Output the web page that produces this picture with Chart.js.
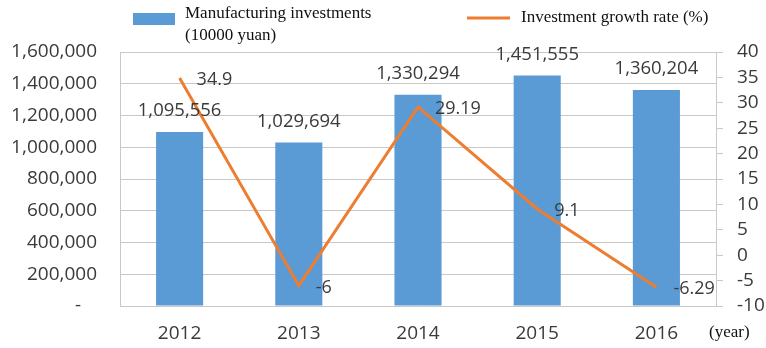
<!DOCTYPE html>
<html>
<head>
<meta charset="utf-8">
<script src="https://cdn.jsdelivr.net/npm/chart.js@4.4.1/dist/chart.umd.min.js"></script>
<style>
    html, body { margin: 0; padding: 0; background: #fff; }
    #wrap { width: 766px; height: 348px; }
</style>
</head>
<body>
<div id="wrap"><canvas id="investChart" width="766" height="348"></canvas></div>
<script>
const years = ['2012', '2013', '2014', '2015', '2016'];
const investments = [1095556, 1029694, 1330294, 1451555, 1360204];
const growthRates = [34.9, -6, 29.19, 9.1, -6.29];

const BLUE = '#5b9bd5';
const ORANGE = '#ed7d31';
const TEXT = '#3a3a3a';
const GRID = '#c8c8c8';
const SANS = '"Open Sans", sans-serif';
const SERIF = '"Liberation Serif", "Times New Roman", serif';

// Value labels beside the bars and line points
const valueLabels = {
    id: 'valueLabels',
    afterDatasetsDraw(chart) {
        const ctx = chart.ctx;
        ctx.save();
        ctx.fillStyle = TEXT;
        ctx.textBaseline = 'middle';

        const barMeta = chart.getDatasetMeta(1);
        ctx.font = '18.5px ' + SANS;
        ctx.textAlign = 'center';
        barMeta.data.forEach((bar, i) => {
            ctx.fillText(investments[i].toLocaleString('en-US'), bar.x, bar.y - 21);
        });

        const lineMeta = chart.getDatasetMeta(0);
        ctx.font = '18px ' + SANS;
        ctx.textAlign = 'left';
        lineMeta.data.forEach((pt, i) => {
            ctx.fillText(String(growthRates[i]), pt.x + 17, pt.y + 2);
        });
        ctx.restore();
    }
};

// Legend and axis unit drawn in serif
const headerLegend = {
    id: 'headerLegend',
    afterDraw(chart) {
        const ctx = chart.ctx;
        ctx.save();
        ctx.font = '17px ' + SERIF;
        ctx.textBaseline = 'middle';
        ctx.textAlign = 'left';

        ctx.fillStyle = BLUE;
        ctx.fillRect(133, 13, 42, 12);
        ctx.fillStyle = '#111';
        ctx.fillText('Manufacturing investments', 185, 14);
        ctx.fillText('(10000 yuan)', 185, 36);

        ctx.strokeStyle = ORANGE;
        ctx.lineWidth = 3;
        ctx.beginPath();
        ctx.moveTo(467, 18);
        ctx.lineTo(510, 18);
        ctx.stroke();
        ctx.fillText('Investment growth rate (%)', 521, 18);

        ctx.fillText('(year)', 709, 333);
        ctx.restore();
    }
};

const ctx = document.getElementById('investChart').getContext('2d');
new Chart(ctx, {
    type: 'bar',
    data: {
        labels: years,
        datasets: [{
            type: 'line',
            label: 'Investment growth rate (%)',
            data: growthRates,
            yAxisID: 'y1',
            borderColor: ORANGE,
            borderWidth: 3,
            pointRadius: 0,
            tension: 0,
            order: 0
        }, {
            type: 'bar',
            label: 'Manufacturing investments (10000 yuan)',
            data: investments,
            yAxisID: 'y',
            backgroundColor: BLUE,
            barPercentage: 0.395,
            categoryPercentage: 1,
            order: 1
        }]
    },
    options: {
        responsive: false,
        animation: false,
        layout: { padding: { top: 52, left: 0, right: 0, bottom: 0 } },
        plugins: {
            legend: { display: false },
            tooltip: { enabled: false }
        },
        scales: {
            x: {
                grid: { display: false, drawTicks: false },
                border: { color: GRID },
                ticks: {
                    color: TEXT,
                    font: { family: SANS, size: 19 },
                    padding: 16
                },
                afterFit(scale) { scale.height = 42; }
            },
            y: {
                position: 'left',
                min: 0,
                max: 1600000,
                grid: { color: GRID, drawTicks: false },
                border: { color: GRID },
                ticks: {
                    stepSize: 200000,
                    autoSkip: false,
                    color: TEXT,
                    font: { family: SANS, size: 19 },
                    padding: 23,
                    callback: v => v === 0 ? '- \u2007' : v.toLocaleString('en-US')
                },
                afterFit(scale) { scale.width = 120; }
            },
            y1: {
                position: 'right',
                min: -10,
                max: 40,
                grid: { drawOnChartArea: false, color: GRID, tickLength: 7 },
                border: { color: GRID },
                ticks: {
                    stepSize: 5,
                    autoSkip: false,
                    color: TEXT,
                    font: { family: SANS, size: 19 },
                    padding: 14
                },
                afterFit(scale) { scale.width = 50; }
            }
        }
    },
    plugins: [valueLabels, headerLegend]
});
</script>
</body>
</html>
